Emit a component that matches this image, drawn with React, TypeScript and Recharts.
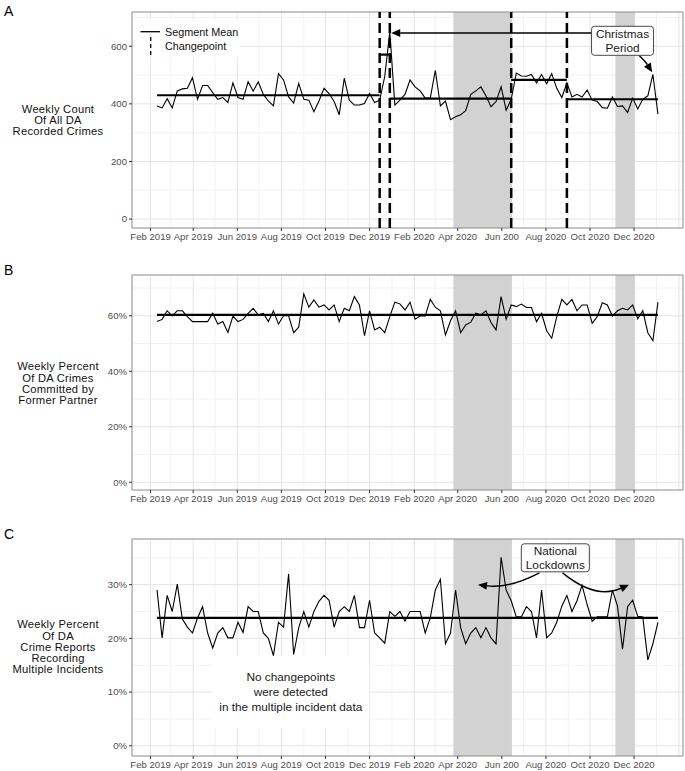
import React from "react";
import {
  LineChart,
  Line,
  XAxis,
  YAxis,
  CartesianGrid,
  ReferenceArea,
  ReferenceLine,
  ReferenceDot,
} from "recharts";

const DAY_MS = 86400000;
const day = (y: number, m: number, d: number) => Date.UTC(y, m - 1, d) / DAY_MS;

// weekly series, first week ending Sun 10 Feb 2019
const firstWeek = day(2019, 2, 10);
const weekDay = (i: number) => firstWeek + 7 * i;

const weeklyCount = [
  393, 386, 418, 386, 445, 452, 454, 491, 416, 464,
  464, 439, 416, 422, 405, 473, 422, 416, 477, 444,
  477, 433, 410, 393, 505, 483, 424, 403, 471, 416,
  413, 373, 410, 454, 436, 408, 362, 489, 413, 396,
  396, 401, 436, 405, 413, 495, 650, 396, 413, 433,
  483, 459, 445, 420, 420, 516, 393, 410, 345, 355,
  362, 376, 433, 445, 459, 428, 390, 408, 459, 378,
  416, 507, 497, 496, 502, 473, 502, 470, 505, 454,
  422, 473, 424, 433, 424, 448, 413, 408, 387, 385,
  424, 391, 393, 370, 420, 382, 416, 428, 502, 364,
];

const formerPartnerPct = [
  57.9, 58.7, 61.8, 60.0, 61.8, 61.8, 59.7, 57.9, 57.9, 57.9,
  57.9, 60.9, 57.0, 57.9, 54.0, 59.9, 57.9, 58.7, 60.9, 62.7,
  60.3, 60.9, 57.9, 61.8, 57.0, 60.0, 60.0, 53.9, 55.9, 67.9,
  63.1, 65.7, 63.1, 63.9, 62.1, 63.9, 57.9, 62.7, 61.8, 66.9,
  63.9, 52.8, 61.8, 54.9, 55.9, 53.9, 59.7, 64.9, 64.3, 62.1,
  64.9, 58.8, 59.9, 59.9, 65.9, 63.1, 61.8, 53.1, 58.2, 61.8,
  53.9, 56.7, 57.7, 60.9, 60.3, 61.8, 57.6, 54.9, 66.9, 58.8,
  63.9, 63.3, 64.2, 63.0, 63.0, 57.9, 60.9, 54.6, 51.9, 59.7,
  65.9, 63.9, 65.9, 61.8, 63.9, 63.9, 57.3, 59.7, 64.7, 63.9,
  59.9, 61.8, 62.7, 62.1, 63.9, 58.9, 61.8, 53.9, 51.0, 64.9,
];

const multipleIncidentPct = [
  29.0, 20.1, 28.0, 25.0, 30.1, 23.6, 22.1, 21.0, 23.8, 25.9,
  21.0, 18.2, 21.0, 22.0, 20.1, 20.1, 23.0, 21.1, 25.9, 25.0,
  25.0, 21.0, 20.0, 16.8, 23.0, 22.1, 32.0, 17.0, 22.0, 25.0,
  22.1, 25.0, 26.9, 28.0, 27.1, 22.1, 25.0, 25.9, 25.0, 28.0,
  22.0, 22.0, 27.1, 21.0, 20.1, 19.1, 25.0, 24.1, 25.0, 23.2,
  25.0, 25.0, 25.0, 21.0, 23.8, 29.0, 31.0, 19.0, 21.0, 29.0,
  22.0, 19.0, 21.0, 22.0, 20.1, 22.0, 20.1, 19.0, 35.1, 29.0,
  27.0, 24.0, 24.0, 25.9, 25.0, 20.1, 29.0, 20.1, 21.0, 23.0,
  26.0, 28.0, 25.0, 27.0, 29.9, 26.3, 23.2, 24.0, 24.0, 24.0,
  29.0, 26.0, 18.0, 25.9, 27.1, 24.1, 24.0, 16.0, 19.0, 23.0,
];

// changepoint segments for panel A (week index ranges)
const countSegments = [
  { from: 0, to: 44, mean: 430 },
  { from: 44, to: 46, mean: 571 },
  { from: 46, to: 70, mean: 418 },
  { from: 70, to: 81, mean: 483 },
  { from: 81, to: 99, mean: 416 },
];
const changepointWeeks = [44, 46, 70, 81];
const formerPartnerMean = 60.3;
const multipleIncidentMean = 23.8;

const lockdowns = [
  { from: day(2020, 3, 26), to: day(2020, 6, 15) },
  { from: day(2020, 11, 5), to: day(2020, 12, 2) },
];

const xTickMonths = [
  [2019, 2], [2019, 4], [2019, 6], [2019, 8], [2019, 10], [2019, 12],
  [2020, 2], [2020, 4], [2020, 6], [2020, 8], [2020, 10], [2020, 12],
];
const xTickLabels = [
  "Feb 2019", "Apr 2019", "Jun 2019", "Aug 2019", "Oct 2019", "Dec 2019",
  "Feb 2020", "Apr 2020", "Jun 200", "Aug 2020", "Oct 2020", "Dec 2020",
];

const FONT = '"Liberation Sans", Arial, Helvetica, sans-serif';

const span = 7 * (weeklyCount.length - 1);
const xMin = firstWeek - 0.05 * span;
const xMax = firstWeek + span + 0.05 * span;

const tickDays = xTickMonths.map(([y, m]) => day(y, m, 1));
const labelFor = (v: number) => {
  const i = tickDays.indexOf(v);
  return i >= 0 ? xTickLabels[i] : "";
};

const allMonths: number[][] = [];
for (let y = 2019; y <= 2021; y++) for (let m = 1; m <= 12; m++) allMonths.push([y, m]);
const inX = (d: number) => d > xMin && d < xMax;
const majorX = allMonths.filter(([, m]) => m % 2 === 0).map(([y, m]) => day(y, m, 1)).filter(inX);
const minorX = allMonths.filter(([, m]) => m % 2 === 1).map(([y, m]) => day(y, m, 1)).filter(inX);

const arrow = (bend: number) => (p: any) => {
  const { x1, y1, x2, y2 } = p;
  const cx = (x1 + x2) / 2;
  const cy = (y1 + y2) / 2 + bend;
  const ang = Math.atan2(y2 - cy, x2 - cx);
  const len = 9;
  const half = 4;
  const bx = x2 - len * Math.cos(ang);
  const by = y2 - len * Math.sin(ang);
  const pts = `${x2},${y2} ${bx - half * Math.sin(ang)},${by + half * Math.cos(ang)} ${bx + half * Math.sin(ang)},${by - half * Math.cos(ang)}`;
  return (
    <g>
      <path d={`M${x1},${y1} Q${cx},${cy} ${bx},${by}`} fill="none" stroke="#000" strokeWidth={1.4} />
      <polygon points={pts} fill="#000" />
    </g>
  );
};

const labelBox = (lines: string[], w: number, h: number, border: boolean, gap: number) => (p: any) => {
  const { cx, cy } = p;
  return (
    <g>
      <rect
        x={cx - w / 2}
        y={cy - h / 2}
        width={w}
        height={h}
        rx={3}
        fill="#fff"
        stroke={border ? "#333" : "none"}
        strokeWidth={0.9}
      />
      {lines.map((t, i) => (
        <text
          key={i}
          x={cx}
          y={cy + (i - (lines.length - 1) / 2) * gap}
          textAnchor="middle"
          dominantBaseline="central"
          fontSize={11.8}
          fill="#1a1a1a"
          fontFamily={FONT}
        >
          {t}
        </text>
      ))}
    </g>
  );
};

type PanelProps = {
  top: number;
  height: number;
  plotTop: number;
  plotBottom: number;
  values: number[];
  yDomain: [number, number];
  yTicks: number[];
  yMinor: number[];
  yFormat: (v: number) => string;
  extras: React.ReactNode[];
};

function Panel(p: PanelProps) {
  const data = p.values.map((v, i) => ({ day: weekDay(i), value: v }));
  const tickStyle = { fontSize: 9.6, fill: "#4d4d4d", fontFamily: FONT };
  return (
    <div style={{ position: "absolute", left: 0, top: p.top }}>
      <LineChart
        width={685}
        height={p.height}
        data={data}
        margin={{ top: p.plotTop - p.top, right: 2, left: 0, bottom: 0 }}
      >
        <CartesianGrid verticalValues={minorX} horizontalValues={p.yMinor} stroke="#f2f2f2" />
        <CartesianGrid verticalValues={majorX} horizontalValues={p.yTicks} stroke="#e4e4e4" />
        <XAxis
          dataKey="day"
          type="number"
          domain={[xMin, xMax]}
          allowDataOverflow
          ticks={tickDays}
          interval={0}
          tickFormatter={labelFor}
          height={p.top + p.height - p.plotBottom}
          axisLine={false}
          tickSize={3}
          tickMargin={2}
          tickLine={{ stroke: "#333" }}
          tick={tickStyle}
        />
        <YAxis
          type="number"
          domain={p.yDomain}
          allowDataOverflow
          ticks={p.yTicks}
          interval={0}
          tickFormatter={p.yFormat}
          width={132}
          axisLine={false}
          tickSize={3}
          tickMargin={2}
          tickLine={{ stroke: "#333" }}
          tick={tickStyle}
        />
        {lockdowns.map((l, i) => (
          <ReferenceArea
            key={"ld" + i}
            x1={l.from}
            x2={l.to}
            y1={p.yDomain[0]}
            y2={p.yDomain[1]}
            fill="#d2d2d2"
            fillOpacity={1}
            stroke="none"
          />
        ))}
        <Line
          dataKey="value"
          type="linear"
          stroke="#000"
          strokeWidth={1.1}
          dot={false}
          isAnimationActive={false}
        />
        {p.extras}
        <ReferenceArea
          x1={xMin}
          x2={xMax}
          y1={p.yDomain[0]}
          y2={p.yDomain[1]}
          fill="none"
          stroke="#8a8a8a"
          strokeWidth={1}
        />
      </LineChart>
    </div>
  );
}

function AxisTitle({ lines, centerY }: { lines: string[]; centerY: number }) {
  const lh = 11.3;
  return (
    <div
      style={{
        position: "absolute",
        left: 0,
        width: 116,
        top: centerY - (lines.length * lh) / 2,
        textAlign: "center",
        fontSize: 11.2,
        letterSpacing: 0.25,
        lineHeight: lh + "px",
        color: "#111",
      }}
    >
      {lines.map((t, i) => (
        <div key={i}>{t}</div>
      ))}
    </div>
  );
}

function Letter({ text, y }: { text: string; y: number }) {
  return (
    <div style={{ position: "absolute", left: 4, top: y, fontSize: 14, lineHeight: "14px", color: "#000" }}>
      {text}
    </div>
  );
}

export default function App() {
  const pct = (v: number) => `${v}%`;

  const extrasA: React.ReactNode[] = [
    ...changepointWeeks.map((k) => (
      <ReferenceLine key={"cp" + k} x={weekDay(k)} stroke="#000" strokeWidth={2.5} strokeDasharray="10 5" />
    )),
    ...countSegments.map((s, i) => (
      <ReferenceLine
        key={"seg" + i}
        segment={[
          { x: weekDay(s.from), y: s.mean },
          { x: weekDay(s.to), y: s.mean },
        ]}
        stroke="#000"
        strokeWidth={2.2}
      />
    )),
    <ReferenceLine
      key="arrowH"
      segment={[
        { x: day(2020, 10, 3), y: 646 },
        { x: day(2019, 12, 31), y: 646 },
      ]}
      shape={arrow(0)}
    />,
    <ReferenceLine
      key="arrowC"
      segment={[
        { x: day(2020, 12, 8), y: 568 },
        { x: day(2020, 12, 26), y: 510 },
      ]}
      shape={arrow(-2)}
    />,
    <ReferenceDot
      key="xmas"
      x={day(2020, 11, 15)}
      y={619}
      r={1}
      shape={labelBox(["Christmas", "Period"], 62, 29, true, 14.5)}
    />,
  ];

  const extrasB: React.ReactNode[] = [
    <ReferenceLine
      key="meanB"
      segment={[
        { x: weekDay(0), y: formerPartnerMean },
        { x: weekDay(formerPartnerPct.length - 1), y: formerPartnerMean },
      ]}
      stroke="#000"
      strokeWidth={2.2}
    />,
  ];

  const extrasC: React.ReactNode[] = [
    <ReferenceLine
      key="meanC"
      segment={[
        { x: weekDay(0), y: multipleIncidentMean },
        { x: weekDay(multipleIncidentPct.length - 1), y: multipleIncidentMean },
      ]}
      stroke="#000"
      strokeWidth={2.2}
    />,
    <ReferenceLine
      key="arrL"
      segment={[
        { x: day(2020, 7, 23), y: 32.2 },
        { x: day(2020, 4, 29), y: 30.0 },
      ]}
      shape={arrow(10)}
    />,
    <ReferenceLine
      key="arrR"
      segment={[
        { x: day(2020, 8, 24), y: 32.2 },
        { x: day(2020, 11, 24), y: 30.0 },
      ]}
      shape={arrow(21)}
    />,
    <ReferenceDot
      key="natl"
      x={day(2020, 8, 14)}
      y={35.0}
      r={1}
      shape={labelBox(["National", "Lockdowns"], 68, 28, true, 14)}
    />,
    <ReferenceDot
      key="nocp"
      x={day(2019, 8, 14)}
      y={10.0}
      r={1}
      shape={labelBox(["No changepoints", "were detected", "in the multiple incident data"], 157, 71, false, 15)}
    />,
  ];

  return (
    <div
      style={{
        position: "absolute",
        left: 0,
        top: 0,
        width: 685,
        height: 771,
        background: "#fff",
        fontFamily: FONT,
        overflow: "hidden",
      }}
    >
      <Panel
        top={0}
        height={250}
        plotTop={12}
        plotBottom={228}
        values={weeklyCount}
        yDomain={[-31, 719]}
        yTicks={[0, 200, 400, 600]}
        yMinor={[100, 300, 500, 700]}
        yFormat={(v) => String(v)}
        extras={extrasA}
      />
      <Panel
        top={258}
        height={255}
        plotTop={275}
        plotBottom={490}
        values={formerPartnerPct}
        yDomain={[-2.8, 74.7]}
        yTicks={[0, 20, 40, 60]}
        yMinor={[10, 30, 50, 70]}
        yFormat={pct}
        extras={extrasB}
      />
      <Panel
        top={516}
        height={255}
        plotTop={539}
        plotBottom={756}
        values={multipleIncidentPct}
        yDomain={[-1.9, 38.5]}
        yTicks={[0, 10, 20, 30]}
        yMinor={[5, 15, 25, 35]}
        yFormat={pct}
        extras={extrasC}
      />

      {/* legend for panel A */}
      <svg style={{ position: "absolute", left: 0, top: 0, pointerEvents: "none" }} width={685} height={70}>
        <rect x={134} y={20} width={106} height={37} fill="#fff" />
        <line x1={140.5} y1={31.7} x2={160} y2={31.7} stroke="#000" strokeWidth={1.3} />
        <line x1={150.7} y1={37} x2={150.7} y2={55} stroke="#000" strokeWidth={1.3} strokeDasharray="4 3" />
        <text x={165} y={31.7} dominantBaseline="central" fontSize={10.8} fill="#111" fontFamily={FONT}>
          Segment Mean
        </text>
        <text x={165} y={46} dominantBaseline="central" fontSize={10.8} fill="#111" fontFamily={FONT}>
          Changepoint
        </text>
      </svg>

      <Letter text="A" y={4} />
      <Letter text="B" y={263} />
      <Letter text="C" y={527} />

      <AxisTitle lines={["Weekly Count", "Of All DA", "Recorded Crimes"]} centerY={120.5} />
      <AxisTitle lines={["Weekly Percent", "Of DA Crimes", "Committed by", "Former Partner"]} centerY={384} />
      <AxisTitle
        lines={["Weekly Percent", "Of DA", "Crime Reports", "Recording", "Multiple Incidents"]}
        centerY={647.5}
      />
    </div>
  );
}
